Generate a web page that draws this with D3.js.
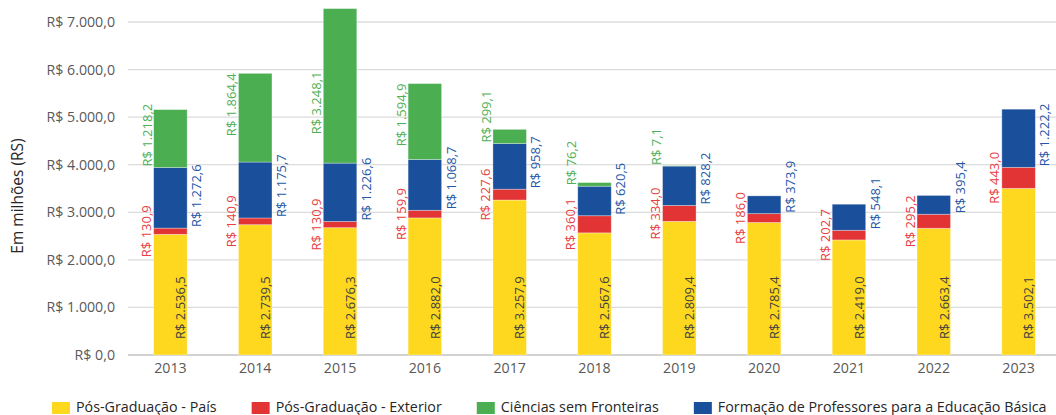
<!DOCTYPE html>
<html>
<head>
<meta charset="utf-8">
<script src="https://cdn.jsdelivr.net/npm/d3@7"></script>
<style>
  body { margin: 0; background: #fff; }
  svg { display: block; font-family: "Open Sans", sans-serif; }
</style>
</head>
<body>
<svg id="chart" width="1056" height="415"></svg>
<script>
// Investimento por programa, em milhões de reais
const years = ["2013", "2014", "2015", "2016", "2017", "2018", "2019", "2020", "2021", "2022", "2023"];
const posGraduacaoPais = [2536.5, 2739.5, 2676.3, 2882.0, 3257.9, 2567.6, 2809.4, 2785.4, 2419.0, 2663.4, 3502.1];
const posGraduacaoExterior = [130.9, 140.9, 130.9, 159.9, 227.6, 360.1, 334.0, 186.0, 202.7, 295.2, 443.0];
const formacaoProfessores = [1272.6, 1175.7, 1226.6, 1068.7, 958.7, 620.5, 828.2, 373.9, 548.1, 395.4, 1222.2];
const cienciasSemFronteiras = [1218.2, 1864.4, 3248.1, 1594.9, 299.1, 76.2, 7.1, null, null, null, null];
const yTicks = [0, 1000, 2000, 3000, 4000, 5000, 6000, 7000];

const seriesKeys = ["pais", "exterior", "formacao", "csf"];
const seriesLabels = {
  pais: "Pós-Graduação - País",
  exterior: "Pós-Graduação - Exterior",
  csf: "Ciências sem Fronteiras",
  formacao: "Formação de Professores para a Educação Básica"
};
const legendOrder = ["pais", "exterior", "csf", "formacao"];
const fillColor = { pais: "#fdd81f", exterior: "#e23434", csf: "#4bae51", formacao: "#1a4f9b" };
const labelColor = { pais: "#404040", exterior: "#e8403f", csf: "#4fb055", formacao: "#2457a6" };

const rows = years.map((yr, i) => ({
  year: yr,
  pais: posGraduacaoPais[i],
  exterior: posGraduacaoExterior[i],
  formacao: formacaoProfessores[i],
  csf: cienciasSemFronteiras[i]
}));

const ptBR = d3.formatLocale({ decimal: ",", thousands: ".", grouping: [3], currency: ["R$ ", ""] });
const fmt = ptBR.format("$,.1f");

const svg = d3.select("#chart");
const plotLeft = 128, plotRight = 1061;

const x = d3.scaleBand().domain(years).range([plotLeft, plotRight])
  .paddingInner(0.605).paddingOuter(0.3025);
const y = d3.scaleLinear().domain([0, 7000]).range([355, 22]);

// grid
svg.append("g").selectAll("line").data(yTicks).join("line")
  .attr("x1", plotLeft).attr("x2", plotRight)
  .attr("y1", d => y(d)).attr("y2", d => y(d))
  .attr("stroke", d => d === 0 ? "#d2d2d2" : "#dcdcdc")
  .attr("stroke-width", d => d === 0 ? 2 : 1.3);

// y axis labels
const yAxis = svg.append("g").attr("transform", `translate(${plotLeft},0)`)
  .call(d3.axisLeft(y).tickValues(yTicks).tickFormat(fmt).tickSize(0).tickPadding(13));
yAxis.select(".domain").remove();
yAxis.selectAll("text").attr("font-size", 14.2).attr("fill", "#595959")
  .attr("font-family", "'Open Sans', sans-serif");

// x axis labels
const xAxis = svg.append("g").attr("transform", `translate(0,${y(0)})`)
  .call(d3.axisBottom(x).tickSize(0).tickPadding(8));
xAxis.select(".domain").remove();
xAxis.selectAll("text").attr("font-size", 14.2).attr("fill", "#595959")
  .attr("font-family", "'Open Sans', sans-serif");

// axis title
svg.append("text")
  .attr("transform", "translate(23,196) rotate(-90)")
  .attr("text-anchor", "middle")
  .attr("font-size", 15.5).attr("fill", "#262626")
  .text("Em milhões (RS)");

// stacked bars
const stack = d3.stack().keys(seriesKeys).value((d, k) => d[k] || 0);
const layers = stack(rows);

const barG = svg.append("g");
layers.forEach(layer => {
  const key = layer.key;
  barG.append("g").selectAll("rect")
    .data(layer.filter(s => s.data[key] != null))
    .join("rect")
    .attr("x", s => x(s.data.year))
    .attr("width", x.bandwidth())
    .attr("y", s => y(s[1]))
    .attr("height", s => y(s[0]) - y(s[1]))
    .attr("fill", fillColor[key])
    .attr("stroke", "#ffffff").attr("stroke-opacity", 0.4).attr("stroke-width", 0.8);
});

// value labels
const labelG = svg.append("g").attr("font-size", 13);
layers.forEach(layer => {
  const key = layer.key;
  layer.filter(s => s.data[key] != null).forEach(s => {
    const x0 = x(s.data.year), x1 = x0 + x.bandwidth();
    const yBase = y(s[0]), yTop = y(s[1]);
    const t = labelG.append("text").attr("fill", labelColor[key]).text(fmt(s.data[key]));
    let tx, ty, anchor = "start";
    if (key === "pais") {
      tx = x1 - 2; ty = y(0) - 16;
    } else if (key === "exterior") {
      tx = x0 - 2.5; ty = (yBase + yTop) / 2; anchor = "middle";
    } else if (key === "formacao") {
      tx = x1 + 14; ty = yBase - 1;
    } else {
      // near the bar top, kept below the 6.000 line and above the segment base
      const len = t.node().getComputedTextLength();
      const top = Math.max(yTop, y(6000) + 2);
      ty = Math.min(top + len, yBase - 1);
      tx = x0 - 2;
    }
    t.attr("text-anchor", anchor).attr("transform", `translate(${tx},${ty}) rotate(-90)`);
  });
});

// legend
const legend = svg.append("g").attr("font-size", 14.3).attr("fill", "#262626");
let lx = 52;
legendOrder.forEach(key => {
  legend.append("rect").attr("x", lx).attr("y", 402).attr("width", 18).attr("height", 12)
    .attr("fill", fillColor[key]);
  const t = legend.append("text").attr("x", lx + 24).attr("y", 412).text(seriesLabels[key]);
  lx += 24 + t.node().getComputedTextLength() + 35;
});
</script>
</body>
</html>
